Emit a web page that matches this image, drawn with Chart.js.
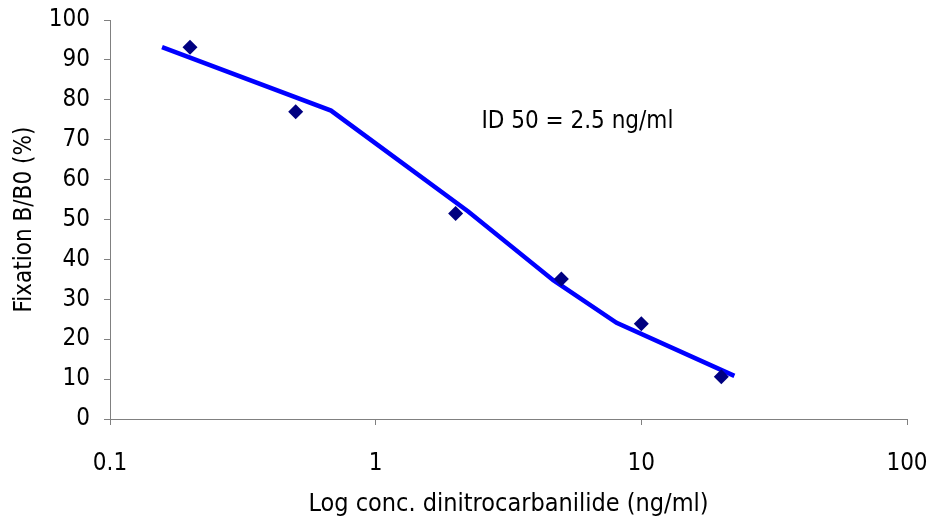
<!DOCTYPE html>
<html>
<head>
<meta charset="utf-8">
<script src="https://cdn.jsdelivr.net/npm/chart.js@4.4.0/dist/chart.umd.min.js"></script>
<style>
  body { margin: 0; background: #fff; }
</style>
</head>
<body>
<canvas id="chart" width="929" height="519"></canvas>
<script>
// tick labels on the log axis
const xTicks = [0.1, 1, 10, 100];

// measured points
const concentration = [0.2, 0.5, 2, 5, 10, 20];
const fixation = [93.2, 77.0, 51.5, 35.1, 23.9, 10.6];

// fitted curve
const fitConc = [0.157, 0.679, 2.23, 4.66, 8.07, 22.4];
const fitFixation = [93.2, 77.3, 52.0, 34.8, 24.1, 10.8];

// where the ID 50 note sits, in data units
const note = "ID 50 = 2.5 ng/ml";
const noteX = 2.5;
const noteY = 73;

const fontFamily = "'DejaVu Sans Condensed', 'DejaVu Sans', Tahoma, sans-serif";

function pairs(xs, ys) {
  var out = [];
  for (var i = 0; i < xs.length; i++) {
    out.push({ x: xs[i], y: ys[i] });
  }
  return out;
}

// draws the ID 50 note inside the plot
const notePlugin = {
  id: 'note',
  afterDatasetsDraw(chart) {
    const ctx = chart.ctx;
    const x = chart.scales.x.getPixelForValue(noteX);
    const y = chart.scales.y.getPixelForValue(noteY);
    ctx.save();
    ctx.font = "24px " + fontFamily;
    ctx.fillStyle = "#000";
    ctx.textAlign = "left";
    ctx.textBaseline = "alphabetic";
    ctx.fillText(note, x, y);
    ctx.restore();
  }
};

new Chart(document.getElementById("chart"), {
  type: 'scatter',
  data: {
    datasets: [
      {
        label: "fit",
        type: 'line',
        data: pairs(fitConc, fitFixation),
        borderColor: "#0000ff",
        borderWidth: 4.5,
        pointRadius: 0,
        tension: 0,
        fill: false,
        order: 2
      },
      {
        label: "measured",
        data: pairs(concentration, fixation),
        pointStyle: 'rectRot',
        pointRadius: 7.5,
        pointBackgroundColor: "#000080",
        pointBorderColor: "#000080",
        pointBorderWidth: 0,
        order: 1
      }
    ]
  },
  options: {
    responsive: false,
    animation: false,
    layout: { padding: { top: 20, right: 22, left: 0, bottom: 0 } },
    plugins: {
      legend: { display: false },
      tooltip: { enabled: false }
    },
    scales: {
      x: {
        type: 'logarithmic',
        min: 0.1,
        max: 100,
        afterBuildTicks: function (axis) {
          axis.ticks = xTicks.map(function (v) { return { value: v }; });
        },
        afterFit: function (axis) {
          axis.height = 100;
          axis.paddingLeft = 0;
          axis.paddingRight = 0;
        },
        ticks: {
          color: "#000",
          font: { family: fontFamily, size: 24 },
          padding: 24,
          maxRotation: 0,
          callback: function (v) { return String(v); }
        },
        grid: { drawOnChartArea: false, tickLength: 6, color: "#808080" },
        border: { color: "#808080", width: 1 },
        title: {
          display: true,
          text: "Log conc. dinitrocarbanilide (ng/ml)",
          color: "#000",
          font: { family: fontFamily, size: 25 },
          padding: { top: 0, bottom: 0 }
        }
      },
      y: {
        min: 0,
        max: 100,
        afterFit: function (axis) {
          axis.width = 110;
          axis.paddingTop = 0;
          axis.paddingBottom = 0;
        },
        ticks: {
          stepSize: 10,
          color: "#000",
          font: { family: fontFamily, size: 24 },
          padding: 14
        },
        grid: { drawOnChartArea: false, tickLength: 6, color: "#808080" },
        border: { color: "#808080", width: 1 },
        title: {
          display: true,
          text: "Fixation B/B0 (%)",
          color: "#000",
          font: { family: fontFamily, size: 24 },
          padding: { top: 10, bottom: 0 }
        }
      }
    }
  },
  plugins: [notePlugin]
});
</script>
</body>
</html>
